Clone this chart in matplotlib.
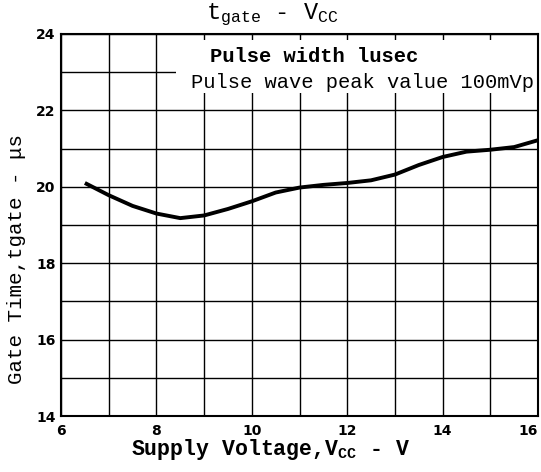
import matplotlib
matplotlib.use('Agg')
import matplotlib.pyplot as plt
from matplotlib.patches import Rectangle

# supply voltage (V) vs gate time (us)
vcc = [6.5, 7, 7.5, 8, 8.5, 9, 9.5, 10, 10.5, 11, 11.5, 12, 12.5, 13, 13.5, 14, 14.5, 15, 15.5, 16]
tgate = [20.1, 19.78, 19.5, 19.3, 19.18, 19.25, 19.42, 19.62, 19.85, 19.98, 20.05, 20.1, 20.17,
         20.32, 20.57, 20.78, 20.92, 20.97, 21.04, 21.22]
xticks = [6, 8, 10, 12, 14, 16]
yticks = [14, 16, 18, 20, 22, 24]

plt.rcParams['mathtext.fontset'] = 'custom'
plt.rcParams['mathtext.tt'] = 'Liberation Mono'
plt.rcParams['mathtext.rm'] = 'Liberation Mono'
plt.rcParams['mathtext.bf'] = 'Liberation Mono:bold'

fig = plt.figure(figsize=(5.41, 4.72), dpi=100)
ax = fig.add_axes([0.1128, 0.1186, 0.8817, 0.8094])

ax.set_xlim(6, 16)
ax.set_ylim(14, 24)
ax.set_xticks(range(6, 17))
ax.set_yticks(range(14, 25))
ax.set_xticklabels([str(v) if v in xticks else '' for v in range(6, 17)],
                   fontweight='bold', fontsize=10, family='DejaVu Sans')
ax.set_yticklabels([str(v) if v in yticks else '' for v in range(14, 25)],
                   fontweight='bold', fontsize=10, family='DejaVu Sans')
ax.get_xticklabels()[-1].set_horizontalalignment('right')
ax.tick_params(length=0)
ax.tick_params(axis='x', pad=6)
ax.tick_params(axis='y', pad=4)
ax.grid(True, color='black', linewidth=1.0)
for s in ax.spines.values():
    s.set_linewidth(1.5)

ax.plot(vcc, tgate, color='black', linewidth=2.8, solid_joinstyle='round',
        solid_capstyle='butt', zorder=3)

# white box behind the annotation
ax.add_patch(Rectangle((8.4, 22.45), 7.6, 1.4, facecolor='white', edgecolor='none', zorder=2.5))
ax.text(11.3, 23.4, 'Pulse width lusec', ha='center', va='center',
        family='Liberation Mono', fontweight='bold', fontsize=14.8, zorder=4)
ax.text(8.72, 22.74, 'Pulse wave peak value 100mVp', ha='left', va='center',
        family='Liberation Mono', fontsize=14.7, zorder=4)

fig.text(0.503, 0.968, r'$\mathtt{t_{gate}}$ - $\mathtt{V_{CC}}$', ha='center', va='center',
         family='Liberation Mono', fontsize=17)
ax.set_xlabel(r'Supply Voltage,V$_{\mathbf{CC}}$ - V', family='Liberation Mono',
              fontweight='bold', fontsize=15.5)
ax.xaxis.set_label_coords(0.44, -0.055)
ax.set_ylabel('Gate Time,tgate - \u03bcs', family='Liberation Mono', fontsize=15)
ax.yaxis.set_label_coords(-0.073, 0.41)

fig.savefig('out.png', dpi=100)
